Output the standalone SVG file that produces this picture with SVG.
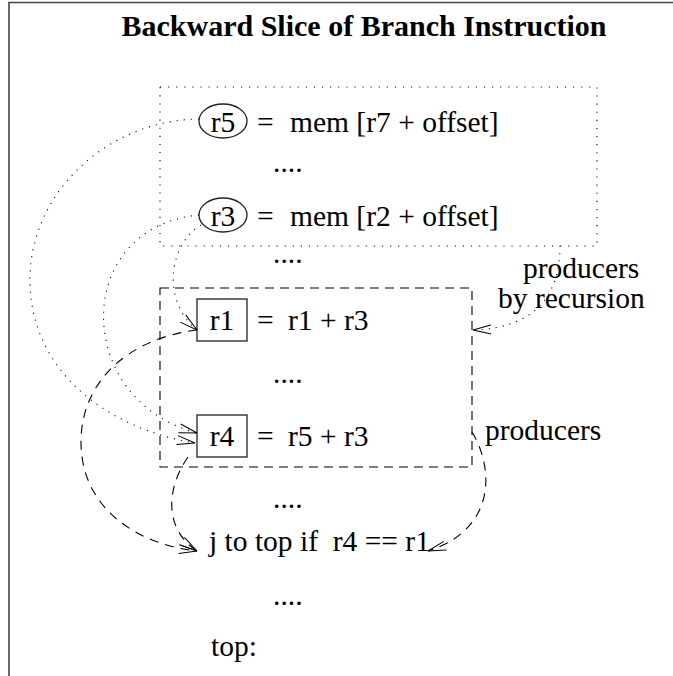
<svg xmlns="http://www.w3.org/2000/svg" width="673" height="676" viewBox="0 0 673 676">
  <style>
    .t { font-family: "Liberation Serif", "Times New Roman", serif; font-size: 29.5px; fill: #000; }
    .title { font-family: "Liberation Serif", "Times New Roman", serif; font-size: 30px; font-weight: bold; fill: #000; }
    .mid { text-anchor: middle; }
    .frame { fill: none; stroke: #444; stroke-width: 1.6; }
    .dotbox { fill: none; stroke: #000; stroke-width: 1.1; stroke-dasharray: 1.1 7; }
    .dashbox { fill: none; stroke: #000; stroke-width: 1.1; stroke-dasharray: 9 6; }
    .reg { fill: none; stroke: #222; stroke-width: 1.3; }
    .dotted { fill: none; stroke: #000; stroke-width: 1.1; stroke-dasharray: 1.1 6; marker-end: url(#arrow); }
    .dashed { fill: none; stroke: #000; stroke-width: 1.1; stroke-dasharray: 9 7; marker-end: url(#arrow); }
  </style>
  <defs>
    <marker id="arrow" markerUnits="userSpaceOnUse" viewBox="-20 -10 22 20" markerWidth="22" markerHeight="20" refX="0" refY="0" orient="auto" overflow="visible">
      <path d="M-18,-4.5 L0,0 L-18,4.5" fill="none" stroke="#000" stroke-width="1"/>
    </marker>
  </defs>

  <!-- page frame -->
  <path class="frame" d="M9,676 V2.5 H673"/>

  <g id="title">
    <text class="title mid" x="364" y="36">Backward Slice of Branch Instruction</text>
  </g>

  <!-- producer regions -->
  <g id="region-recursive">
    <rect class="dotbox" x="160" y="87" width="437" height="159"/>
  </g>
  <g id="region-direct">
    <rect class="dashbox" x="160" y="288" width="312" height="179"/>
  </g>

  <!-- statements -->
  <g id="load-r5">
    <ellipse class="reg" cx="223" cy="121" rx="24" ry="17"/>
    <text class="t mid" x="223" y="132">r5</text>
    <text class="t" x="257" y="132">=</text>
    <text class="t" x="290" y="132">mem [r7 + offset]</text>
  </g>
  <g id="gap-1">
    <text class="t" x="273" y="172">....</text>
  </g>
  <g id="load-r3">
    <ellipse class="reg" cx="223" cy="215" rx="24" ry="17"/>
    <text class="t mid" x="223" y="226">r3</text>
    <text class="t" x="257" y="226">=</text>
    <text class="t" x="290" y="226">mem [r2 + offset]</text>
  </g>
  <g id="gap-2">
    <text class="t" x="273" y="263">....</text>
  </g>
  <g id="add-r1">
    <rect class="reg" x="197" y="299" width="50" height="42"/>
    <text class="t mid" x="222" y="330">r1</text>
    <text class="t" x="257" y="330">=</text>
    <text class="t" x="288" y="330">r1 + r3</text>
  </g>
  <g id="gap-3">
    <text class="t" x="273" y="383">....</text>
  </g>
  <g id="add-r4">
    <rect class="reg" x="197" y="415" width="50" height="42"/>
    <text class="t mid" x="222" y="446">r4</text>
    <text class="t" x="257" y="446">=</text>
    <text class="t" x="288" y="446">r5 + r3</text>
  </g>
  <g id="gap-4">
    <text class="t" x="273" y="508">....</text>
  </g>
  <g id="branch">
    <text class="t" x="209" y="551" xml:space="preserve">j to top if  r4 == r1</text>
  </g>
  <g id="gap-5">
    <text class="t" x="273" y="605">....</text>
  </g>
  <g id="label-top">
    <text class="t" x="211" y="656">top:</text>
  </g>

  <g id="note-recursion">
    <text class="t" x="523" y="278">producers</text>
    <text class="t" x="498" y="308">by recursion</text>
  </g>
  <g id="note-producers">
    <text class="t" x="485" y="440">producers</text>
  </g>

  <!-- dependence edges -->
  <g id="connectors">
    <path class="dotted" d="M199,119 C110,120 30,190 30,280 C30,370 105,428 195,443"/>
    <path class="dotted" d="M199,215 C72,227 72,400 197,433"/>
    <path class="dotted" d="M201,225 C170,243 160,300 197,330"/>
    <path class="dotted" d="M560,246 C560,290 540,328 473,330"/>
    <path class="dashed" d="M197,330 C130,338 82,380 81,440 C80,510 140,545 197,551"/>
    <path class="dashed" d="M188,457 C165,490 165,530 197,551"/>
    <path class="dashed" d="M472,432 C495,470 495,530 428,551"/>
  </g>
</svg>
